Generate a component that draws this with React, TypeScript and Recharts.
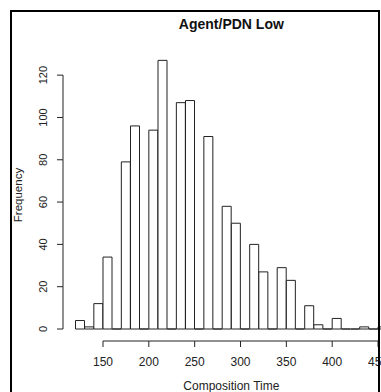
import { BarChart, Bar, XAxis, YAxis, Label } from 'recharts';

// histogram bins (lower edge) and counts
const BIN_START = [
  120, 130, 140, 150, 160, 170, 180, 190, 200, 210, 220, 230, 240, 250, 260, 270, 280,
  290, 300, 310, 320, 330, 340, 350, 360, 370, 380, 390, 400, 410, 420, 430, 440, 450,
];
const FREQUENCY = [
  4, 1, 12, 34, 0, 79, 96, 0, 94, 127, 0, 107, 108, 0, 91, 0, 58,
  50, 0, 40, 27, 0, 29, 23, 0, 11, 2, 0, 5, 0, 0, 1, 0, 1,
];
const X_TICKS = [150, 200, 250, 300, 350, 400, 450];
const Y_TICKS = [0, 20, 40, 60, 80, 100, 120];

const data = BIN_START.map((bin, i) => ({ bin, count: FREQUENCY[i] }));

// layout (R base graphics look)
const W = 400;
const H = 392;
const PLOT_LEFT = 63;
const PLOT_TOP = 54;
const PLOT_RIGHT = 387.2;
const PLOT_BOTTOM = 341;
const Y_PAD_BOTTOM = 12;
const Y_MAX = 130;
const CAT_PAD_LEFT = 12.5;

const INK = '#222';
const FONT = '"Liberation Sans", Arial, Helvetica, sans-serif';

const band = (PLOT_RIGHT - PLOT_LEFT - CAT_PAD_LEFT) / BIN_START.length;
const yStep = ((PLOT_BOTTOM - Y_PAD_BOTTOM - PLOT_TOP) * (Y_TICKS[1] - Y_TICKS[0])) / Y_MAX;
const xStep = (band * (X_TICKS[1] - X_TICKS[0])) / (BIN_START[1] - BIN_START[0]);
const barCenterX = PLOT_LEFT + CAT_PAD_LEFT + (PLOT_RIGHT - PLOT_LEFT - CAT_PAD_LEFT) / 2;

function YTick(props: any) {
  const { y, index, payload } = props;
  const lx = 43;
  return (
    <g>
      {index < Y_TICKS.length - 1 && (
        <line x1={PLOT_LEFT} y1={y} x2={PLOT_LEFT} y2={y - yStep} stroke={INK} />
      )}
      <line x1={PLOT_LEFT - 6} y1={y} x2={PLOT_LEFT} y2={y} stroke={INK} />
      <text
        x={lx}
        y={y}
        transform={`rotate(-90 ${lx} ${y})`}
        textAnchor="middle"
        dominantBaseline="central"
        fontSize={11}
        fontFamily={FONT}
        fill={INK}
      >
        {payload.value}
      </text>
    </g>
  );
}

// category ticks sit at band centres; R puts them on the bin edges
function XTick(props: any) {
  const { index, payload } = props;
  const x = props.x - band / 2;
  return (
    <g>
      {index < X_TICKS.length - 1 && (
        <line x1={x} y1={PLOT_BOTTOM} x2={x + xStep} y2={PLOT_BOTTOM} stroke={INK} />
      )}
      <line x1={x} y1={PLOT_BOTTOM} x2={x} y2={PLOT_BOTTOM + 6} stroke={INK} />
      <text x={x} y={366} textAnchor="middle" fontSize={12} fontFamily={FONT} fill={INK}>
        {payload.value}
      </text>
    </g>
  );
}

// R draws every bin as a rect, empty ones collapse to a line on the baseline
function HistBar(props: any) {
  const { x, y, width, height } = props;
  const base = y + height;
  return (
    <path
      d={`M${x},${base}V${y}H${x + width}V${base}Z`}
      fill="#fff"
      stroke={INK}
      strokeWidth={1}
    />
  );
}

export default function App() {
  return (
    <div style={{ position: 'relative', width: 381, height: 392, overflow: 'hidden', background: '#fff' }}>
      <style>{'body{margin:0}'}</style>
      <div style={{ position: 'absolute', left: 0, top: 0 }}>
        <BarChart
          width={W}
          height={H}
          data={data}
          barCategoryGap={0}
          barGap={0}
          margin={{ top: PLOT_TOP, right: W - PLOT_RIGHT, bottom: 0, left: 0 }}
        >
          <XAxis
            dataKey="bin"
            ticks={X_TICKS}
            interval={0}
            padding={{ left: CAT_PAD_LEFT, right: 0 }}
            height={H - PLOT_BOTTOM}
            axisLine={false}
            tickLine={false}
            tick={XTick}
          >
            <Label
              content={() => (
                <text x={barCenterX} y={389.5} textAnchor="middle" fontSize={12} fontFamily={FONT} fill={INK}>
                  Composition Time
                </text>
              )}
            />
          </XAxis>
          <YAxis
            width={PLOT_LEFT}
            domain={[0, Y_MAX]}
            ticks={Y_TICKS}
            interval={0}
            padding={{ top: 0, bottom: Y_PAD_BOTTOM }}
            axisLine={false}
            tickLine={false}
            tick={YTick}
          />
          <Bar dataKey="count" shape={HistBar} isAnimationActive={false} />
        </BarChart>
      </div>
      <svg width={381} height={392} style={{ position: 'absolute', left: 0, top: 0, pointerEvents: 'none' }}>
        <rect x={11} y={11} width={368} height={400} fill="none" stroke="#000" strokeWidth={2} />
        <text
          x={barCenterX}
          y={28.5}
          textAnchor="middle"
          fontSize={14}
          fontWeight="bold"
          fontFamily={FONT}
          fill="#111"
        >
          Agent/PDN Low
        </text>
        <text
          x={18}
          y={195}
          transform="rotate(-90 18 195)"
          textAnchor="middle"
          dominantBaseline="central"
          fontSize={11.5}
          fontFamily={FONT}
          fill={INK}
        >
          Frequency
        </text>
      </svg>
    </div>
  );
}
